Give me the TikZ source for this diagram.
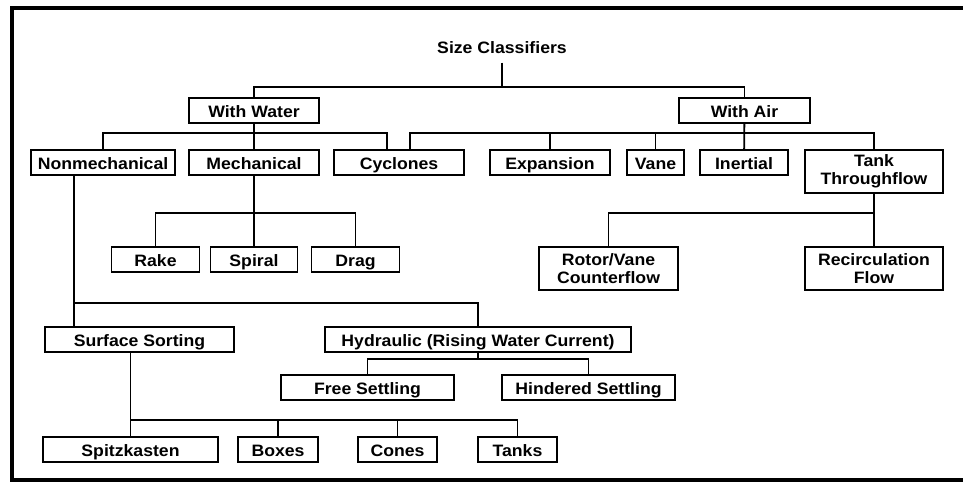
\documentclass[tikz,border=0pt]{standalone}
\usepackage{fontspec}
\setmainfont{Liberation Sans}[FakeStretch=1.07]
\usetikzlibrary{positioning}

\begin{document}
\begin{tikzpicture}[
    x=1pt, y=-1pt,
    font=\bfseries\fontsize{16.5}{18}\selectfont,
    caja/.style={draw, line width=1.8pt, minimum height=25pt, inner sep=0pt,
                 outer sep=0pt, align=center, text height=13.5pt, text depth=0.5pt},
    caja2/.style={caja, minimum height=43pt, text height=, text depth=},
    linea/.style={line width=1.8pt},
    marco/.style={line width=4pt}
]
\useasboundingbox (0,0) rectangle (963,482);
\draw[marco] (963,7.5) -- (11.5,7.5) -- (11.5,479.5) -- (963,479.5);

\node (titulo) at (502,48) {Size Classifiers};
\node[caja, minimum width=130pt] (agua) at (254,110.5) {With Water};
\node[caja, minimum width=131pt] (aire) at (744.5,110.5) {With Air};

\node[caja, minimum width=144pt] (nomec) at (103,162.5) {Nonmechanical};
\node[caja, minimum width=130pt, right=14pt of nomec]  (mec)     {Mechanical};
\node[caja, minimum width=130pt, right=15pt of mec]    (ciclon)  {Cyclones};
\node[caja, minimum width=120pt, right=26pt of ciclon] (expan)   {Expansion};
\node[caja, minimum width=57pt,  right=17pt of expan]  (aleta)   {Vane};
\node[caja, minimum width=88pt,  right=16pt of aleta]  (inercia) {Inertial};
\node[caja2, minimum width=138pt, right=17pt of inercia.north east,
      anchor=north west] (tanque) {Tank\\Throughflow};

\node[caja, minimum width=88pt] (rastrillo) at (155.5,259.5) {Rake};
\node[caja, minimum width=87pt, right=11pt of rastrillo] (espiral)  {Spiral};
\node[caja, minimum width=88pt, right=14pt of espiral]   (arrastre) {Drag};
\node[caja2, minimum width=138pt, below=54pt of tanque]  (recirc) {Recirculation\\Flow};
\node[caja2, minimum width=139pt, left=127pt of recirc]  (rotor)  {Rotor/Vane\\Counterflow};

\node[caja, minimum width=189pt] (superficie) at (139.5,339.5) {Surface Sorting};
\node[caja, minimum width=306pt] (hidraulico) at (478,339.5) {Hydraulic (Rising Water Current)};
\node[caja, minimum width=173pt] (libre) at (367.5,387.5) {Free Settling};
\node[caja, minimum width=173pt, right=48pt of libre] (impedido) {Hindered Settling};

\node[caja, minimum width=175pt] (spitz) at (130.5,449.5) {Spitzkasten};
\node[caja, minimum width=80pt, right=20pt of spitz] (cajas)   {Boxes};
\node[caja, minimum width=79pt, right=40pt of cajas] (conos)   {Cones};
\node[caja, minimum width=79pt, right=41pt of conos] (tanques) {Tanks};

% puntos de las barras
\coordinate (b0) at (502,87);
\coordinate (b1) at (254,133);
\coordinate (b2) at (744.5,133);
\coordinate (b3) at (254,213);
\coordinate (b4) at (874,213);
\coordinate (b5) at (74,303);
\coordinate (b6) at (478,359);
\coordinate (b7) at (130.5,420);

\draw[linea] ([yshift=-5pt]titulo.south -| b0) -- (b0);
\draw[linea] (agua.north) |- (b0) -| (aire.north);

\draw[linea] (agua) -- (mec);
\draw[linea] (nomec.north) |- (b1) -| ([xshift=-12pt]ciclon.north);
\draw[linea] (aire) -- (inercia);
\draw[linea] ([xshift=11pt]ciclon.north) |- (b2) -| (tanque.north);
\draw[linea] (expan.north) -- (expan.north |- b2);
\draw[linea] (aleta.north) -- (aleta.north |- b2);

\draw[linea] (mec) -- (espiral);
\draw[linea] (rastrillo.north) |- (b3) -| (arrastre.north);
\draw[linea] (tanque) -- (recirc);
\draw[linea] (rotor.north) |- (b4);

\draw[linea] (nomec.south -| b5) -- (superficie.north -| b5);
\draw[linea] (b5) -| (hidraulico.north);
\draw[linea] (hidraulico.south) -- (b6);
\draw[linea] (libre.north) |- (b6) -| (impedido.north);

\draw[linea] (superficie.south -| b7) -- (spitz);
\draw[linea] (b7) -| (tanques.north);
\draw[linea] (cajas.north) -- (cajas.north |- b7);
\draw[linea] (conos.north) -- (conos.north |- b7);

\end{tikzpicture}
\end{document}
